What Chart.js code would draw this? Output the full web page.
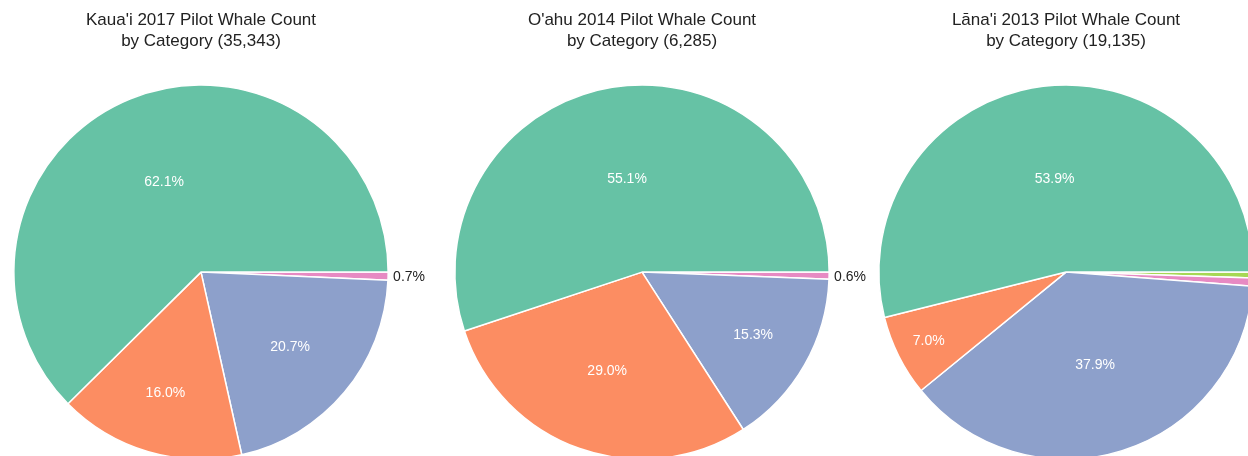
<!DOCTYPE html>
<html>
<head>
<meta charset="utf-8">
<script src="https://cdn.jsdelivr.net/npm/chart.js@4"></script>
<style>
  html, body { margin: 0; padding: 0; background: #fff; width: 1248px; height: 456px; overflow: hidden; position: relative; }
  canvas { position: absolute; top: 0; }
</style>
</head>
<body>
<canvas id="c1"></canvas>
<canvas id="c2"></canvas>
<canvas id="c3"></canvas>
<script>
// ---- data ----
const categories = ['Category 1', 'Category 2', 'Category 3', 'Category 4', 'Category 5'];
const sliceColors = ['#66c2a5', '#fc8d62', '#8da0cb', '#e78ac3', '#a6d854'];

const kauaiTitle = ["Kaua'i 2017 Pilot Whale Count", "by Category (35,343)"];
const kauaiPct = [62.1, 16.0, 20.7, 0.7, 0];

const oahuTitle = ["O'ahu 2014 Pilot Whale Count", "by Category (6,285)"];
const oahuPct = [55.1, 29.0, 15.3, 0.6, 0];

const lanaiTitle = ["Lāna'i 2013 Pilot Whale Count", "by Category (19,135)"];
const lanaiPct = [53.9, 7.0, 37.9, 0.7, 0.5];

const pieCentersX = [201, 642, 1066];

// ---- label plugin: inside labels at the centre of the slice's inscribed circle,
//      tiny slices labelled just outside the rim ----
const pctLabels = {
  id: 'pctLabels',
  afterDatasetsDraw(chart) {
    const ctx = chart.ctx;
    const meta = chart.getDatasetMeta(0);
    const ds = chart.data.datasets[0];
    ctx.save();
    ctx.font = '14px "Liberation Sans", Arial, sans-serif';
    ctx.textBaseline = 'middle';
    meta.data.forEach((arc, i) => {
      const v = ds.data[i];
      if (!v) return;
      const p = arc.getProps(['x', 'y', 'startAngle', 'endAngle', 'outerRadius'], true);
      const mid = (p.startAngle + p.endAngle) / 2;
      const half = (p.endAngle - p.startAngle) / 2;
      const txt = v.toFixed(1) + '%';
      if (v < 1) {
        const d = p.outerRadius + 5;
        ctx.fillStyle = '#222';
        ctx.textAlign = Math.cos(mid) >= 0 ? 'left' : 'right';
        ctx.fillText(txt, p.x + Math.cos(mid) * d, p.y + Math.sin(mid) * d + 1);
      } else {
        const d = p.outerRadius / (1 + Math.sin(half));
        ctx.fillStyle = '#ffffff';
        ctx.textAlign = 'center';
        ctx.fillText(txt, p.x + Math.cos(mid) * d, p.y + Math.sin(mid) * d);
      }
    });
    ctx.restore();
  }
};

function makePie(id, cx, titleLines, pct) {
  const canvas = document.getElementById(id);
  const W = 480, H = 460;
  canvas.width = W; canvas.height = H;
  canvas.style.width = W + 'px'; canvas.style.height = H + 'px';
  canvas.style.left = (cx - W / 2) + 'px';
  // reverse so that clockwise drawing from 3 o'clock mimics counter-clockwise order
  const data = pct.slice().reverse();
  const colors = sliceColors.slice(0, pct.length).reverse();
  const labels = categories.slice(0, pct.length).reverse();
  new Chart(canvas, {
    type: 'pie',
    data: {
      labels: labels,
      datasets: [{
        data: data,
        backgroundColor: colors,
        borderColor: '#ffffff',
        borderWidth: 1.5
      }]
    },
    options: {
      responsive: false,
      animation: false,
      rotation: 90,
      layout: { padding: 0 },
      plugins: {
        legend: { display: false },
        tooltip: { enabled: false },
        title: {
          display: true,
          text: titleLines,
          color: '#222',
          font: { family: '"Liberation Sans", Arial, sans-serif', size: 17, weight: 'normal', lineHeight: 1.25 },
          padding: { top: 9.4, bottom: 32.3 }
        }
      }
    },
    plugins: [pctLabels]
  });
}

makePie('c1', pieCentersX[0], kauaiTitle, kauaiPct);
makePie('c2', pieCentersX[1], oahuTitle, oahuPct);
makePie('c3', pieCentersX[2], lanaiTitle, lanaiPct);
</script>
</body>
</html>
